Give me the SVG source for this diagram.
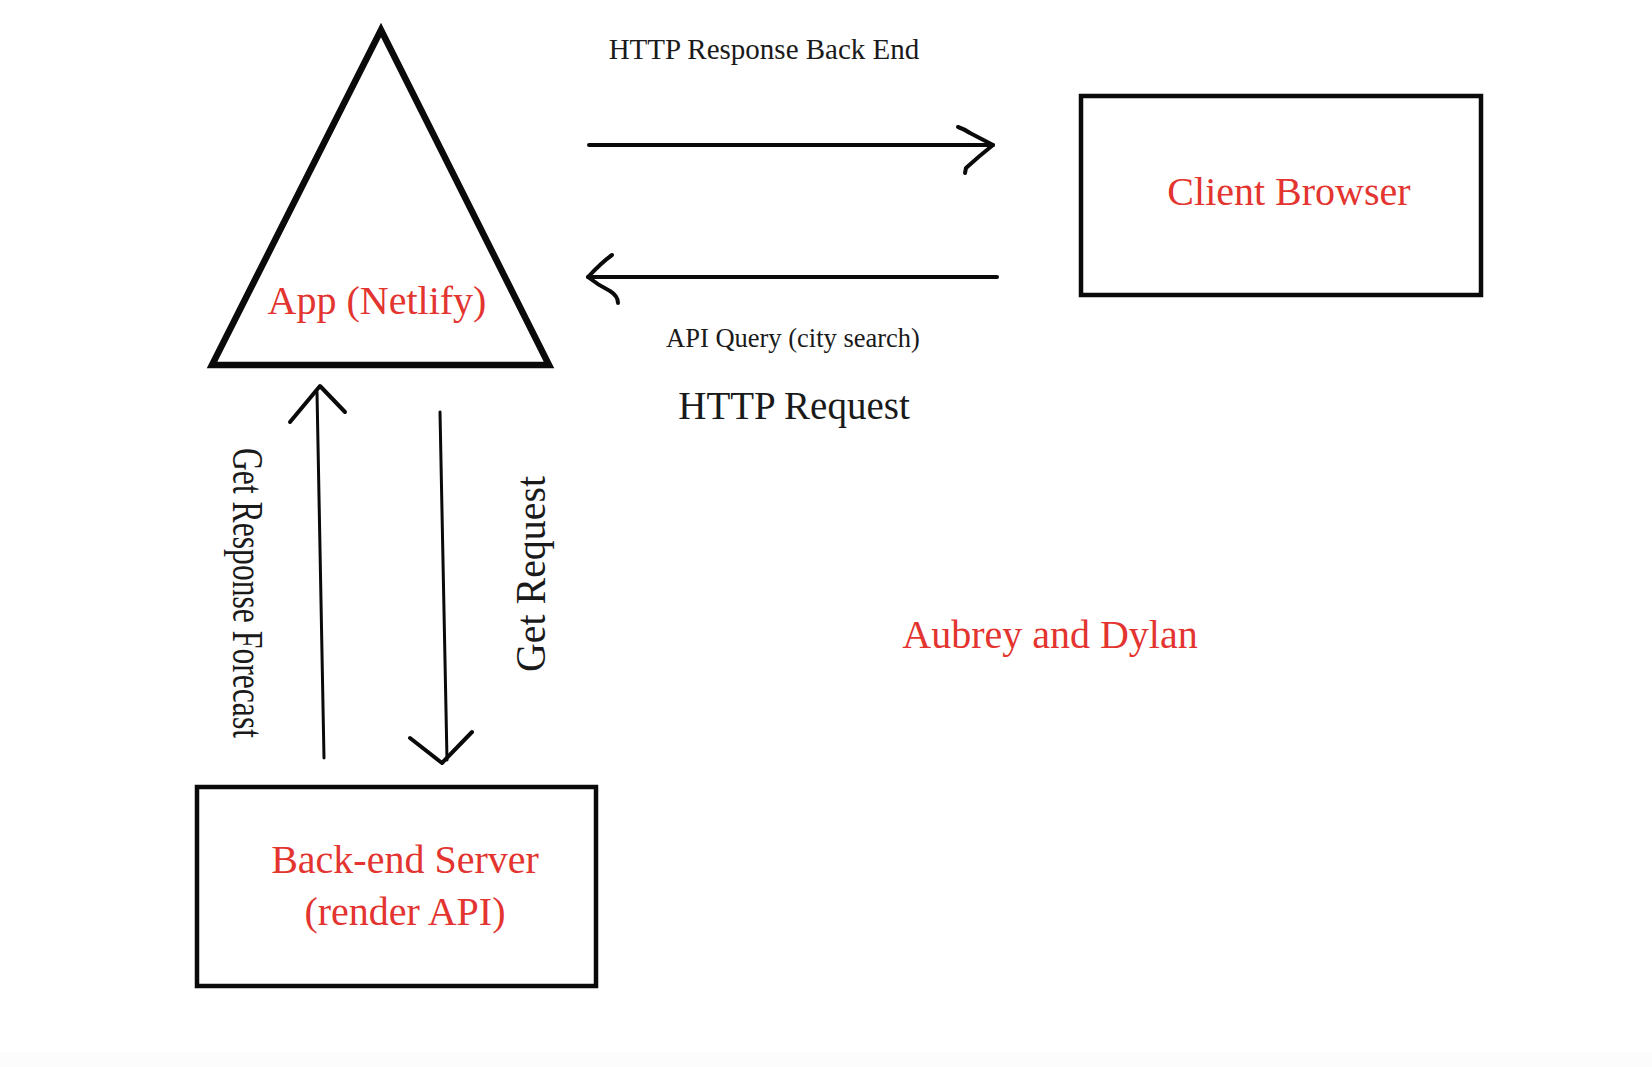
<svg xmlns="http://www.w3.org/2000/svg" width="1652" height="1067" viewBox="0 0 1652 1067">
<style>
.shape{fill:none;stroke:#0a0a0a;stroke-linejoin:miter}
.conn{fill:none;stroke:#0a0a0a;stroke-linecap:round;stroke-linejoin:round}
.red{font-family:"Liberation Serif","Times New Roman",serif;fill:#e3342f}
.lbl{font-family:"Liberation Serif","Times New Roman",serif;fill:#1a1a1a}
</style>
<rect x="0" y="0" width="1652" height="1067" fill="#ffffff"/>
<rect x="0" y="1052" width="1652" height="15" fill="#fcfcfc"/>
<g id="app">
<polygon class="shape" stroke-width="6.5" points="381,30 212,365 549,365"/>
<text class="red" x="377" y="314" font-size="40" text-anchor="middle">App (Netlify)</text>
</g>
<g id="client">
<rect class="shape" stroke-width="4.5" x="1081" y="96" width="400" height="199"/>
<text class="red" x="1289" y="205" font-size="40" text-anchor="middle">Client Browser</text>
</g>
<g id="backend">
<rect class="shape" stroke-width="4.5" x="197" y="787" width="399" height="199"/>
<text class="red" x="405" y="873" font-size="40" text-anchor="middle">Back-end Server</text>
<text class="red" x="405" y="925" font-size="40" text-anchor="middle">(render API)</text>
</g>
<g id="note">
<text class="red" x="1050" y="648" font-size="40" text-anchor="middle">Aubrey and Dylan</text>
</g>
<g id="connectors">
<path class="conn" stroke-width="4" d="M589,145 L993,145"/>
<path class="conn" stroke-width="4" d="M958,127 Q964,129 970,133 L993,145 Q978,157 966,168 L965,173"/>
<path class="conn" stroke-width="4" d="M997,277 L588,277"/>
<path class="conn" stroke-width="4" d="M612,255 Q602,262 588,277 Q598,285 610,291 Q618,296 618,303"/>
<path class="conn" stroke-width="3" d="M324,758 L317,392"/>
<path class="conn" stroke-width="4" d="M290,422 L320,386 L345,412"/>
<path class="conn" stroke-width="3" d="M440,412 L447,760"/>
<path class="conn" stroke-width="4" d="M410,738 L442,763 L472,732"/>
<text class="lbl" x="764" y="59" font-size="29" text-anchor="middle">HTTP Response Back End</text>
<text class="lbl" x="793" y="347" font-size="26.5" text-anchor="middle">API Query (city search)</text>
<text class="lbl" x="794" y="419" font-size="39" text-anchor="middle">HTTP Request</text>
<text class="lbl" transform="translate(233,448) rotate(90)" x="0" y="0" font-size="44" textLength="290" lengthAdjust="spacingAndGlyphs">Get Response Forecast</text>
<text class="lbl" transform="translate(545,672) rotate(-90)" x="0" y="0" font-size="42" textLength="196" lengthAdjust="spacingAndGlyphs">Get Request</text>
</g>
</svg>
